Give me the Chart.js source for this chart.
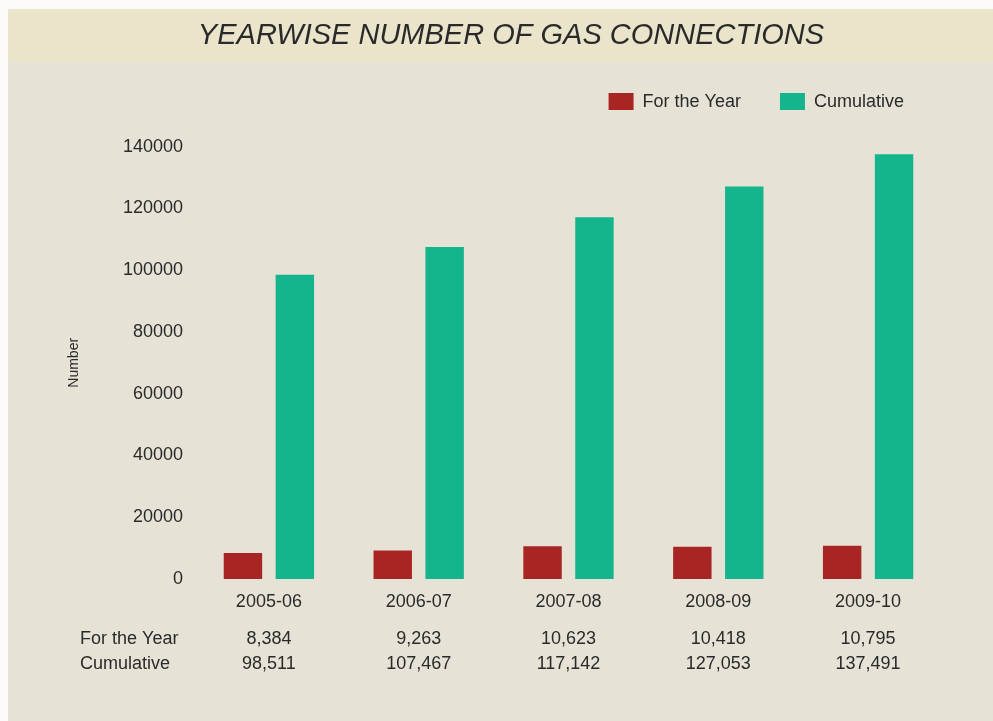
<!DOCTYPE html>
<html>
<head>
<meta charset="utf-8">
<title>Yearwise Number of Gas Connections</title>
<script src="https://cdn.jsdelivr.net/npm/chart.js@4.4.1/dist/chart.umd.min.js"></script>
<style>
    html, body { margin: 0; padding: 0; background: #e6e2d6; }
    #wrap { position: relative; width: 993px; height: 721px; }
</style>
</head>
<body>
<div id="wrap"><canvas id="gas-chart"></canvas></div>
<script>
// values
const years = ['2005-06', '2006-07', '2007-08', '2008-09', '2009-10'];
const forTheYear = [8384, 9263, 10623, 10418, 10795];
const cumulative = [98511, 107467, 117142, 127053, 137491];
const seriesNames = ['For the Year', 'Cumulative'];
const chartTitle = 'YEARWISE NUMBER OF GAS CONNECTIONS';
const tableRows = [['For the Year', forTheYear], ['Cumulative', cumulative]];

const textColor = '#2a2a2a';
const fontFamily = '"Liberation Sans", Arial, Helvetica, sans-serif';

// page background, title band and title text
const backdrop = {
    id: 'backdrop',
    beforeDraw(chart) {
        const ctx = chart.ctx;
        ctx.save();
        ctx.fillStyle = '#e6e2d6';
        ctx.fillRect(0, 0, chart.width, chart.height);
        ctx.fillStyle = '#fbfaf7';
        ctx.fillRect(0, 0, chart.width, 9);
        ctx.fillRect(0, 0, 8, chart.height);
        ctx.fillStyle = '#e9e4ca';
        ctx.fillRect(8, 9, chart.width - 8, 53);
        ctx.fillStyle = textColor;
        ctx.font = `italic 29px ${fontFamily}`;
        ctx.textAlign = 'center';
        ctx.textBaseline = 'middle';
        ctx.fillText(chartTitle, 511, 36);
        ctx.restore();
    }
};

// leave some room between the legend and the plot
const legendSpacer = {
    id: 'legendSpacer',
    beforeLayout(chart) {
        const legend = chart.legend;
        if (!legend || legend._spaced) return;
        const fit = legend.fit;
        legend.fit = function () {
            fit.call(this);
            this.height += 26;
        };
        legend._spaced = true;
    }
};

// data table under the x axis
const dataTable = {
    id: 'dataTable',
    afterDraw(chart) {
        const ctx = chart.ctx;
        const xScale = chart.scales.x;
        ctx.save();
        ctx.font = `18px ${fontFamily}`;
        ctx.fillStyle = textColor;
        ctx.textBaseline = 'middle';
        tableRows.forEach(([label, values], r) => {
            const y = 639 + r * 25;
            ctx.textAlign = 'left';
            ctx.fillText(label, 80, y);
            ctx.textAlign = 'center';
            values.forEach((v, i) => {
                ctx.fillText(v.toLocaleString('en-US'), xScale.getPixelForValue(i), y);
            });
        });
        ctx.restore();
    }
};

const ctx = document.getElementById('gas-chart').getContext('2d');
new Chart(ctx, {
    type: 'bar',
    data: {
        labels: years,
        datasets: [{
            label: seriesNames[0],
            data: forTheYear,
            backgroundColor: '#a92523',
            borderWidth: 0
        }, {
            label: seriesNames[1],
            data: cumulative,
            backgroundColor: '#14b48d',
            borderWidth: 0
        }]
    },
    options: {
        responsive: true,
        maintainAspectRatio: false,
        animation: false,
        datasets: {
            bar: { categoryPercentage: 0.693, barPercentage: 0.74 }
        },
        layout: { padding: { top: 53.6, left: 0, right: 50, bottom: 104.4 } },
        plugins: {
            legend: {
                position: 'top',
                align: 'end',
                labels: {
                    boxWidth: 25,
                    boxHeight: 17,
                    padding: 39,
                    color: textColor,
                    font: { size: 18, family: fontFamily }
                }
            },
            tooltip: { enabled: false }
        },
        scales: {
            x: {
                offset: true,
                grid: { display: false },
                border: { display: false },
                ticks: { color: textColor, padding: 4, font: { size: 18, family: fontFamily } }
            },
            y: {
                min: 0,
                max: 140000,
                grid: { display: false },
                border: { display: false },
                ticks: {
                    stepSize: 20000,
                    padding: 3,
                    color: textColor,
                    font: { size: 18, family: fontFamily },
                    callback: v => String(v)
                },
                title: {
                    display: true,
                    text: 'Number',
                    color: textColor,
                    font: { size: 14, family: fontFamily },
                    padding: { top: 66, bottom: 0 }
                },
                afterFit(scale) { scale.width = 194; }
            }
        }
    },
    plugins: [backdrop, legendSpacer, dataTable]
});
</script>
</body>
</html>
